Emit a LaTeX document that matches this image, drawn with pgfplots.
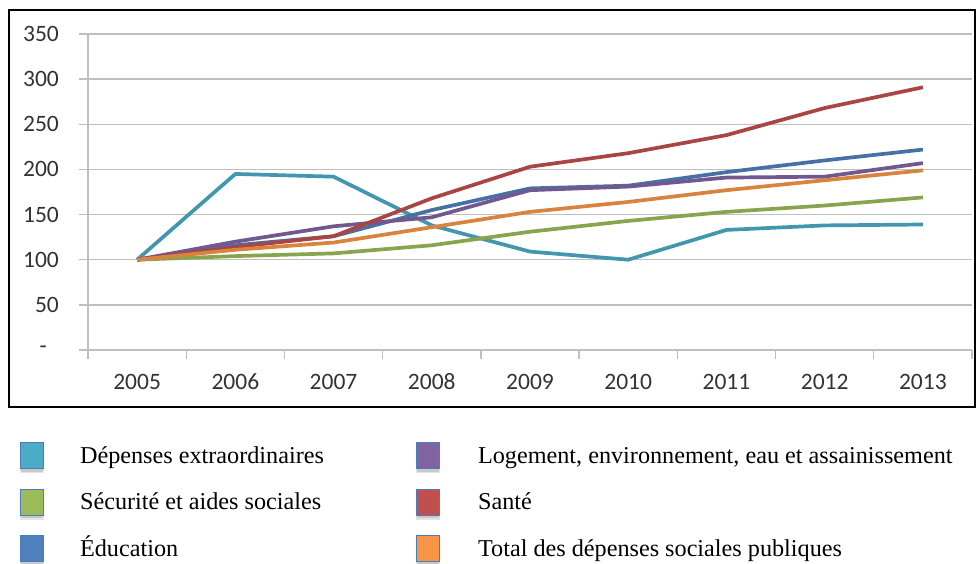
\documentclass[border=0pt]{standalone}
\usepackage{fontspec}
\setmainfont{Liberation Serif}
\newfontfamily\tickfont{Carlito}
\usepackage{pgfplots}
\pgfplotsset{compat=1.18}

\definecolor{cTeal}{HTML}{4BACC6}
\definecolor{cGreen}{HTML}{9BBB59}
\definecolor{cBlue}{HTML}{4F81BD}
\definecolor{cPurple}{HTML}{8064A2}
\definecolor{cRed}{HTML}{C0504D}
\definecolor{cOrange}{HTML}{F79646}
\definecolor{cGrid}{HTML}{BFBFBF}
\definecolor{cTxt}{HTML}{333333}
\definecolor{cEdge}{HTML}{4A7EBB}

\pgfplotsset{series/.style={#1!88!black, line width=3.7pt, line join=round, forget plot}}

% square legend key with a soft shadow underneath
\newcommand\legsq[1]{%
  \begin{scope}[overlay]
  \fill[black, opacity=0.10, draw=none] (0pt,-15.7pt) rectangle (24pt,-10.7pt);
  \fill[black, opacity=0.12, draw=none] (1pt,-14.2pt) rectangle (23pt,-10.7pt);
  \filldraw[fill=#1, draw=cEdge, line width=1.3pt] (0.65pt,-11.4pt) rectangle (23.35pt,14.6pt);
  \end{scope}
  \path[draw=none, fill=none] (0pt,0pt) -- (24pt,0pt);
}

\begin{document}
\begin{tikzpicture}[x=1pt,y=1pt]
\useasboundingbox (0,0) rectangle (976,563);
\draw[line width=2pt] (9,553) rectangle (975,156);
\begin{axis}[
  at={(88pt,213pt)}, anchor=south west,
  scale only axis, width=884pt, height=316pt,
  xmin=2004.5, xmax=2013.5, ymin=0, ymax=350,
  axis lines=left,
  axis line style={-, draw=cGrid, line width=1.4pt},
  ytick={0,50,...,350},
  yticklabels={{-\hspace*{12pt}},50,100,150,200,250,300,350},
  ymajorgrids, grid style={cGrid, line width=1.4pt},
  tick align=outside, major tick length=9pt,
  tick style={cGrid, line width=1.4pt},
  xtick={2004.5,2005.5,2006.5,2007.5,2008.5,2009.5,2010.5,2011.5,2012.5,2013.5},
  x tick label as interval,
  xticklabels={2005,2006,2007,2008,2009,2010,2011,2012,2013},
  /pgf/number format/assume math mode=true,
  ticklabel style={font=\tickfont\fontsize{23.5}{28}\selectfont, text=cTxt},
  yticklabel style={inner sep=0pt, xshift=-20pt},
  xticklabel style={inner sep=0pt, anchor=north, text height=15pt, text depth=0pt, yshift=-15pt},
  legend columns=2,
  legend cell align=left,
  legend style={at={(-0.07684,-0.3016)}, anchor=north west,
    draw=none, fill=none, inner sep=0pt, outer sep=0pt,
    column sep=0pt, row sep=22.5pt,
    nodes={inner sep=0pt, text height=18pt, text depth=6pt},
    font=\fontsize{24.2}{29}\selectfont},
]
% index series, 2005 = 100
\addplot[series=cTeal] coordinates
  {(2005,100) (2006,195) (2007,192) (2008,138) (2009,109) (2010,100) (2011,133) (2012,138) (2013,139)};
\addplot[series=cGreen] coordinates
  {(2005,100) (2006,104) (2007,107) (2008,116) (2009,131) (2010,143) (2011,153) (2012,160) (2013,169)};
\addplot[series=cBlue] coordinates
  {(2005,100) (2006,116) (2007,126) (2008,155) (2009,179) (2010,182) (2011,197) (2012,210) (2013,222)};
\addplot[series=cPurple] coordinates
  {(2005,100) (2006,120) (2007,137) (2008,147) (2009,177) (2010,181) (2011,191) (2012,192) (2013,207)};
\addplot[series=cRed] coordinates
  {(2005,100) (2006,114) (2007,126) (2008,168) (2009,203) (2010,218) (2011,238) (2012,268) (2013,291)};
\addplot[series=cOrange] coordinates
  {(2005,100) (2006,111) (2007,119) (2008,136) (2009,153) (2010,164) (2011,177) (2012,188) (2013,199)};

\addlegendimage{legend image code/.code={\legsq{cTeal}}}
\addlegendentry{\hspace*{36pt}\makebox[336pt][l]{Dépenses extraordinaires}}
\addlegendimage{legend image code/.code={\legsq{cPurple}}}
\addlegendentry{\hspace*{38pt}Logement, environnement, eau et assainissement}
\addlegendimage{legend image code/.code={\legsq{cGreen}}}
\addlegendentry{\hspace*{36pt}\makebox[336pt][l]{Sécurité et aides sociales}}
\addlegendimage{legend image code/.code={\legsq{cRed}}}
\addlegendentry{\hspace*{38pt}Santé}
\addlegendimage{legend image code/.code={\legsq{cBlue}}}
\addlegendentry{\hspace*{36pt}\makebox[336pt][l]{Éducation}}
\addlegendimage{legend image code/.code={\legsq{cOrange}}}
\addlegendentry{\hspace*{38pt}Total des dépenses sociales publiques}
\end{axis}
\end{tikzpicture}
\end{document}
